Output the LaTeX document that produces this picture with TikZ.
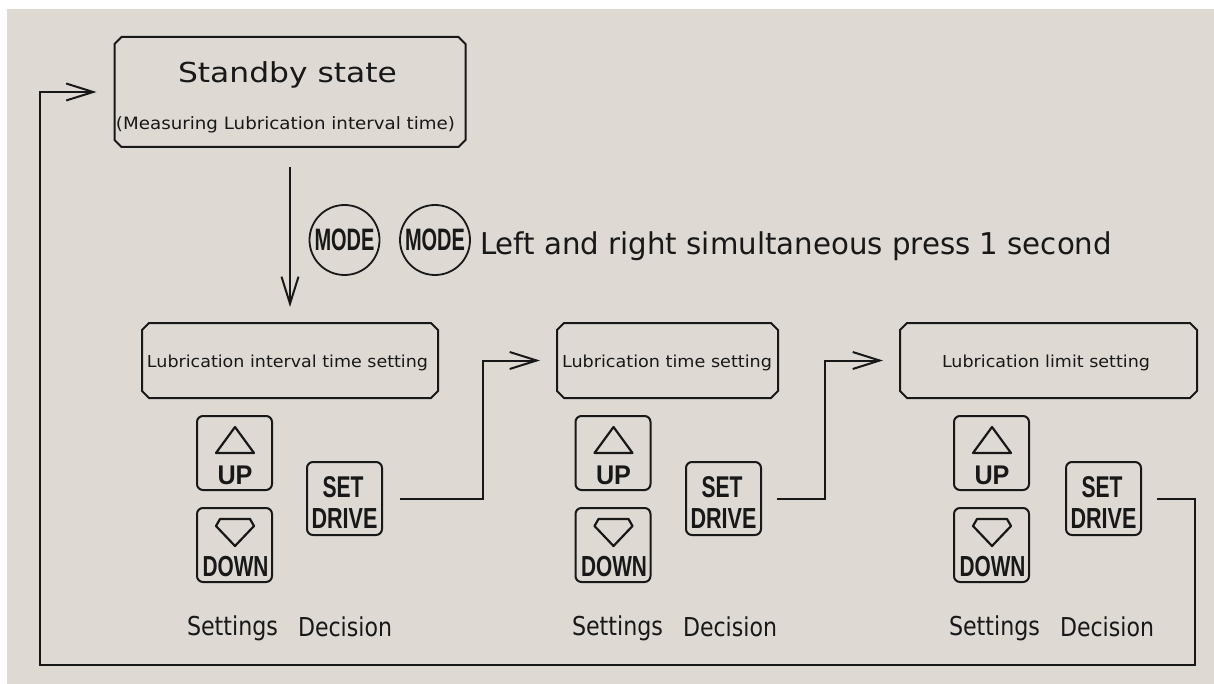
\documentclass[tikz,border=0pt]{standalone}
\usepackage{fontspec}
\setmainfont{DejaVu Sans}
\newfontfamily\btnfont{Liberation Sans}
\usetikzlibrary{arrows.meta,shapes.geometric}
\definecolor{bgc}{RGB}{222,217,211}
\definecolor{inkc}{RGB}{24,24,24}
\newcommand\fitw[2]{\resizebox{#1}{\height}{#2}}
\newcommand\chbox[2]{%
  \draw[outline] ([xshift=#2]#1.north west) -- ([xshift=-#2]#1.north east) -- ([yshift=-#2]#1.north east)
   -- ([yshift=#2]#1.south east) -- ([xshift=-#2]#1.south east) -- ([xshift=#2]#1.south west)
   -- ([yshift=#2]#1.south west) -- ([yshift=-#2]#1.north west) -- cycle;}
\begin{document}
\begin{tikzpicture}[x=1pt,y=-1pt,
  outline/.style={draw=inkc, line width=2pt, line join=miter},
  boxn/.style={draw=none, inner sep=0pt, outer sep=0pt},
  txt/.style={inner sep=0pt, outer sep=0pt, text=inkc, anchor=base},
  btn/.style={draw=inkc, line width=2pt, rounded corners=6pt, inner sep=0pt, outer sep=0pt, minimum width=75pt, minimum height=74pt},
  tri/.style={draw=inkc, line width=2.2pt, line join=round},
  modec/.style={circle, draw=inkc, line width=1.8pt, inner sep=0pt, minimum size=70pt, text=inkc},
  conn/.style={draw=inkc, line width=2pt},
  >={Straight Barb[length=27pt,width=17pt]}]
\useasboundingbox (0,0) rectangle (1214,684);
\fill[bgc] (7,9) rectangle (1214,684);

% state boxes
\node[boxn, minimum width=351pt, minimum height=110pt] (standby) at (290,92) {};
\node[boxn, minimum width=296pt, minimum height=75pt] (b1) at (290,360.5) {};
\node[boxn, minimum width=221pt, minimum height=75pt] (b2) at (667.5,360.5) {};
\node[boxn, minimum width=297pt, minimum height=75pt] (b3) at (1048.5,360.5) {};
\foreach \n in {standby,b1,b2,b3} {\chbox{\n}{7pt}}

\node[txt] (tstand) at (287.5,83) {\fontsize{27.5}{27.5}\selectfont\fitw{219pt}{Standby state}};
\node[txt] (tmeas) at (285.5,130) {\fontsize{17}{17}\selectfont\fitw{339pt}{(Measuring Lubrication interval time)}};
\node[txt] (tb1) at (287.5,367) {\fontsize{16.5}{16.5}\selectfont\fitw{281pt}{Lubrication interval time setting}};
\node[txt] (tb2) at (667,367) {\fontsize{16.5}{16.5}\selectfont\fitw{210pt}{Lubrication time setting}};
\node[txt] (tb3) at (1046,367) {\fontsize{16.5}{16.5}\selectfont\fitw{208pt}{Lubrication limit setting}};

% MODE buttons and instruction
\node[modec] (m1) at (344.5,240) {\btnfont\bfseries\fontsize{31}{31}\selectfont\fitw{60pt}{MODE}};
\node[modec] (m2) at (435,240) {\btnfont\bfseries\fontsize{31}{31}\selectfont\fitw{60pt}{MODE}};
\node[txt] (tleft) at (796,255) {\fontsize{30}{30}\selectfont\fitw{632pt}{Left and right simultaneous press 1 second}};

% button columns
\foreach \i/\dx/\sx/\tx in {1/0/0/0, 2/378.5/379/385, 3/757/759/762} {
  \node[btn] (up\i) at ({234.5+\dx},453) {};
  \node[btn] (down\i) at ({234.5+\dx},545) {};
  \node[btn, minimum height=73pt] (set\i) at ({344.5+\sx},498.5) {};
  \draw[tri] ({235+\dx},427) -- ({254+\dx},453) -- ({216+\dx},453) -- cycle;
  \draw[tri] ({220+\dx},519) -- ({250+\dx},519) -- ({254+\dx},526) -- ({235+\dx},546) -- ({216+\dx},526) -- cycle;
  \node[txt] (uplab\i) at ({235+\dx},484) {\btnfont\bfseries\fontsize{27}{27}\selectfont\fitw{35pt}{UP}};
  \node[txt] (downlab\i) at ({235.5+\dx},576) {\btnfont\bfseries\fontsize{29}{29}\selectfont\fitw{66pt}{DOWN}};
  \node[txt] (setlab\i) at ({343+\sx},497) {\btnfont\bfseries\fontsize{30}{30}\selectfont\fitw{41pt}{SET}};
  \node[txt] (drivelab\i) at ({344.5+\sx},528) {\btnfont\bfseries\fontsize{29}{29}\selectfont\fitw{66pt}{DRIVE}};
  \node[txt] (settings\i) at ({232.5+\tx},635) {\fontsize{26}{26}\selectfont\fitw{91pt}{Settings}};
  \node[txt] (decision\i) at ({345+\tx},636) {\fontsize{26}{26}\selectfont\fitw{94pt}{Decision}};
}

% connectors
\coordinate (e1) at (483,430);
\coordinate (e2) at (825,430);
\coordinate (rb) at (1195,665);
\coordinate (lb) at (40,665);
\draw[conn,->,shorten <=20pt,shorten >=16pt] (standby.south) -- (b1.north);
\draw[conn,->,shorten <=18pt,shorten >=17pt] (set1.east) -| (e1) |- (b2.west);
\draw[conn,->,shorten <=16pt,shorten >=17pt] (set2.east) -| (e2) |- (b3.west);
\draw[conn,->,shorten <=16pt,shorten >=18pt] (set3.east) -| (rb) -- (lb) |- (standby.west);
\end{tikzpicture}
\end{document}
